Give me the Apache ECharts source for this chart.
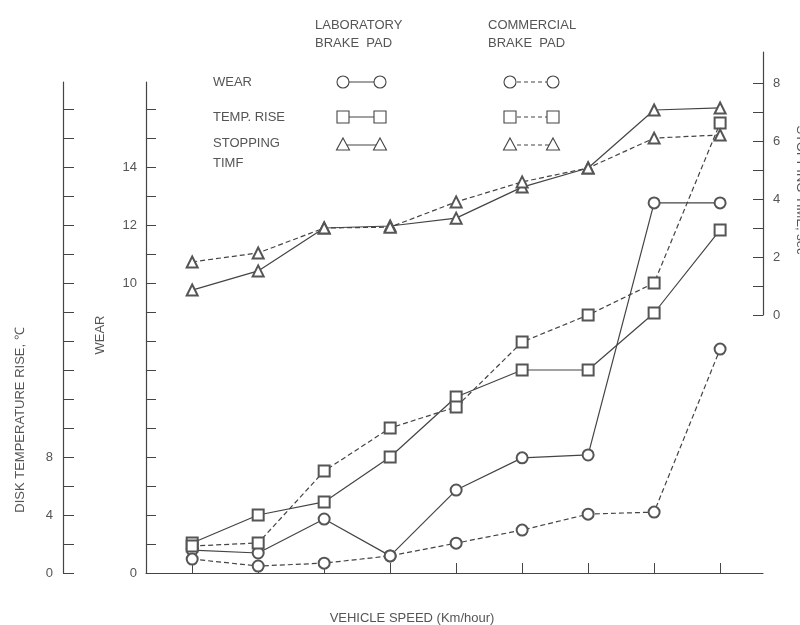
<!DOCTYPE html>
<html>
<head>
<meta charset="utf-8">
<script src="https://cdn.jsdelivr.net/npm/echarts@6/dist/echarts.min.js"></script>
<style>html,body{margin:0;padding:0;background:#fff;}#c{width:800px;height:625px;}</style>
</head>
<body>
<div id="c"></div>
<script>
// ---- data ----
const speeds = [1, 2, 3, 4, 5, 6, 7, 8, 9];
const labWear = [0.79, 0.69, 1.86, 0.59, 2.86, 3.97, 4.07, 12.76, 12.76];
const comWear = [0.48, 0.24, 0.34, 0.59, 1.03, 1.48, 2.03, 2.10, 7.72];
const labTemp = [2.07, 4.0, 4.9, 8.0, 12.14, 14.0, 14.0, 17.93, 23.66];
const comTemp = [1.86, 2.07, 7.03, 10.0, 11.45, 15.93, 17.79, 20.0, 31.03];
const labStop = [0.86, 1.52, 3.0, 3.07, 3.34, 4.41, 5.07, 7.07, 7.14];
const comStop = [1.83, 2.14, 3.0, 3.03, 3.9, 4.59, 5.07, 6.1, 6.21];
const wearLabels = [0, 10, 12, 14];
const tempLabels = [0, 4, 8];
const stopLabels = [0, 2, 4, 6, 8];
const wearTicks = [0,1,2,3,4,5,6,7,8,9,10,11,12,13,14,15,16];
const tempTicks = [0,2,4,6,8,10,12,14,16,18,20,22,24,26,28,30,32];
const stopTicks = [0,1,2,3,4,5,6,7,8,9.07];

const INK = '#444';
const TXT = '#555';
const FONT = '"Liberation Sans", Arial, sans-serif';
const pair = (xs, ys) => xs.map((x, i) => [x, ys[i]]);

function ser(name, data, sym, dashed, xi, yi) {
  return {
    name, type: 'line', data, xAxisIndex: xi, yAxisIndex: yi,
    symbol: sym, symbolSize: 11, clip: false,
    lineStyle: { color: INK, width: 1.2, type: dashed ? [5, 3] : 'solid' },
    itemStyle: { color: '#555', borderColor: '#555', borderWidth: 1 },
    emphasis: { disabled: true }, animation: false
  };
}

// legend graphics
const g = [];
function txt(t, x, y, extra) {
  g.push(Object.assign({ type: 'text', x, y, style: { text: t, x: 0, y: 0, font: '13px ' + FONT, fill: TXT, textAlign: 'left', textVerticalAlign: 'middle' } }, extra || {}));
}
function seg(x1, x2, y, dashed) {
  g.push({ type: 'line', shape: { x1, y1: y, x2, y2: y }, style: { stroke: INK, lineWidth: 1.2, lineDash: dashed ? [4, 3] : null } });
}
function mark(kind, x, y) {
  const st = { fill: '#fff', stroke: INK, lineWidth: 1.1 };
  if (kind === 'c') g.push({ type: 'circle', shape: { cx: x, cy: y, r: 6 }, style: st, z: 10 });
  if (kind === 's') g.push({ type: 'rect', shape: { x: x - 6, y: y - 6, width: 12, height: 12 }, style: st, z: 10 });
  if (kind === 't') g.push({ type: 'polygon', shape: { points: [[x, y - 7], [x + 6.5, y + 5], [x - 6.5, y + 5]] }, style: st, z: 10 });
}
txt('LABORATORY', 315, 25); txt('BRAKE  PAD', 315, 43);
txt('COMMERCIAL', 488, 25); txt('BRAKE  PAD', 488, 43);
txt('WEAR', 213, 82); txt('TEMP. RISE', 213, 117); txt('STOPPING', 213, 143); txt('TIMF', 213, 163);
[['c', 82], ['s', 117], ['t', 145]].forEach(([k, y]) => {
  seg(343, 380, y, false); mark(k, 343, y); mark(k, 380, y);
  seg(510, 553, y, true); mark(k, 510, y); mark(k, 553, y);
});
// axis titles
txt('DISK TEMPERATURE RISE, \u2103', 20, 420, { rotation: Math.PI / 2 });
g[g.length - 1].style.textAlign = 'center';
txt('WEAR', 100, 335, { rotation: Math.PI / 2 });
g[g.length - 1].style.textAlign = 'center';
txt('STOPPING TIME, sec', 801, 190, { rotation: -Math.PI / 2 });
g[g.length - 1].style.textAlign = 'center';
txt('VEHICLE SPEED (Km/hour)', 412, 618);
g[g.length - 1].style.textAlign = 'center';

const axisLineStyle = { lineStyle: { color: INK, width: 1.2 } };
const labelStyle = { color: TXT, fontSize: 13, fontFamily: FONT };

const chart = echarts.init(document.getElementById('c'), null, { renderer: 'canvas' });
chart.setOption({
  backgroundColor: '#fff',
  animation: false,
  grid: [
    { left: 146, right: 37, top: 82, bottom: 52 },
    { left: 146, right: 37, top: 52, bottom: 310 }
  ],
  xAxis: [
    { gridIndex: 0, type: 'value', min: 0.3, max: 9.65, axisLine: axisLineStyle,
      axisTick: { inside: true, length: 10, customValues: speeds, lineStyle: { color: INK } },
      axisLabel: { show: false }, splitLine: { show: false } },
    { gridIndex: 1, type: 'value', min: 0.3, max: 9.65, show: false, splitLine: { show: false } }
  ],
  yAxis: [
    { gridIndex: 0, type: 'value', position: 'left', min: 0, max: 16.93, interval: 1,
      axisLine: { show: true, lineStyle: { color: INK, width: 1.2 } },
      axisTick: { show: true, inside: true, length: 10, customValues: wearTicks, lineStyle: { color: INK } },
      axisLabel: Object.assign({ margin: 9, showMaxLabel: false, formatter: v => wearLabels.includes(v) ? String(v) : '' }, labelStyle),
      splitLine: { show: false } },
    { gridIndex: 0, type: 'value', position: 'left', offset: 83, min: 0, max: 33.86, interval: 2,
      axisLine: { show: true, lineStyle: { color: INK, width: 1.2 } },
      axisTick: { show: true, inside: true, length: 11, customValues: tempTicks, lineStyle: { color: INK } },
      axisLabel: Object.assign({ margin: 10, showMaxLabel: false, formatter: v => tempLabels.includes(v) ? String(v) : '' }, labelStyle),
      splitLine: { show: false } },
    { gridIndex: 1, type: 'value', position: 'right', min: 0, max: 9.07, interval: 1,
      axisLine: { show: true, lineStyle: { color: INK, width: 1.2 } },
      axisTick: { show: true, inside: true, length: 10, customValues: stopTicks, lineStyle: { color: INK } },
      axisLabel: Object.assign({ margin: 10, showMaxLabel: false, formatter: v => stopLabels.includes(v) ? String(v) : '' }, labelStyle),
      splitLine: { show: false } }
  ],
  series: [
    ser('Lab wear', pair(speeds, labWear), 'emptyCircle', false, 0, 0),
    ser('Commercial wear', pair(speeds, comWear), 'emptyCircle', true, 0, 0),
    ser('Lab temp. rise', pair(speeds, labTemp), 'emptyRect', false, 0, 1),
    ser('Commercial temp. rise', pair(speeds, comTemp), 'emptyRect', true, 0, 1),
    ser('Lab stopping time', pair(speeds, labStop), 'emptyTriangle', false, 1, 2),
    ser('Commercial stopping time', pair(speeds, comStop), 'emptyTriangle', true, 1, 2)
  ],
  graphic: g
});
</script>
</body>
</html>
